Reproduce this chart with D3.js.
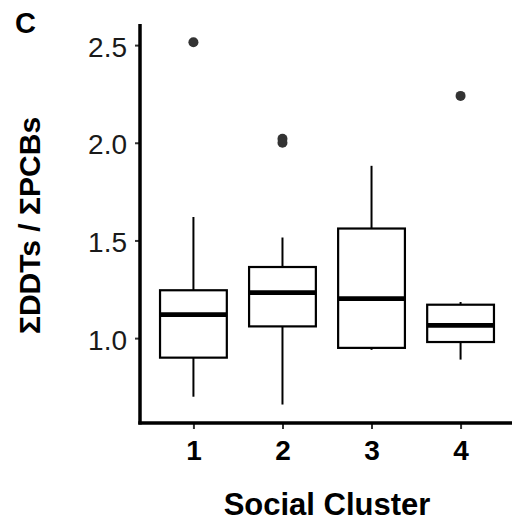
<!DOCTYPE html>
<html>
<head>
<meta charset="utf-8">
<script src="https://cdn.jsdelivr.net/npm/d3@7"></script>
<style>
  html, body { margin: 0; padding: 0; background: #fff; }
  svg { display: block; font-family: "Liberation Sans", Arial, sans-serif; }
</style>
</head>
<body>
<svg id="chart" width="512" height="522"></svg>
<script>
const categories = ["1", "2", "3", "4"];
const lowerWhisker = [0.70, 0.66, 0.94, 0.89];
const q1 = [0.90, 1.06, 0.95, 0.98];
const median = [1.12, 1.233, 1.202, 1.065];
const q3 = [1.245, 1.364, 1.561, 1.171];
const upperWhisker = [1.62, 1.515, 1.882, 1.185];
const outliers = [[2.515], [2.02, 2.0], [], [2.24]];
const yTicks = [1.0, 1.5, 2.0, 2.5];

const svg = d3.select("#chart");

const y = d3.scaleLinear().domain([0.567, 2.608]).range([422.7, 24]);
const x = d3.scaleLinear().domain([0.4, 4.6]).range([140, 514]);
const boxHalf = 0.375;

// boxes
const g = svg.append("g");
categories.forEach((c, i) => {
  const cx = x(i + 1);
  g.append("line").attr("x1", cx).attr("x2", cx)
    .attr("y1", y(upperWhisker[i])).attr("y2", y(q3[i]))
    .attr("stroke", "#000").attr("stroke-width", 2);
  g.append("line").attr("x1", cx).attr("x2", cx)
    .attr("y1", y(q1[i])).attr("y2", y(lowerWhisker[i]))
    .attr("stroke", "#000").attr("stroke-width", 2);
  g.append("rect")
    .attr("x", x(i + 1 - boxHalf)).attr("width", x(i + 1 + boxHalf) - x(i + 1 - boxHalf))
    .attr("y", y(q3[i])).attr("height", y(q1[i]) - y(q3[i]))
    .attr("fill", "#fff").attr("stroke", "#000").attr("stroke-width", 2.2);
  g.append("line")
    .attr("x1", x(i + 1 - boxHalf)).attr("x2", x(i + 1 + boxHalf))
    .attr("y1", y(median[i])).attr("y2", y(median[i]))
    .attr("stroke", "#000").attr("stroke-width", 4.8);
  outliers[i].forEach(v => {
    g.append("circle").attr("cx", cx).attr("cy", y(v)).attr("r", 5)
      .attr("fill", "#333");
  });
});

// Y axis
const yAxis = svg.append("g").attr("transform", "translate(140,0)")
  .call(d3.axisLeft(y).tickValues(yTicks).tickFormat(d3.format(".1f")).tickSizeInner(5).tickSizeOuter(0).tickPadding(8));
yAxis.select(".domain").remove();
yAxis.selectAll(".tick line").attr("stroke", "#333").attr("stroke-width", 2);
yAxis.selectAll(".tick text").attr("font-size", 28).attr("fill", "#1a1a1a")
  .attr("dy", "0.4em").style("font-family", "'Liberation Sans', Arial, sans-serif");

// X axis
const xAxis = svg.append("g").attr("transform", "translate(0,423)")
  .call(d3.axisBottom(x).tickValues([1, 2, 3, 4]).tickFormat((d) => categories[d - 1]).tickSizeInner(6).tickSizeOuter(0));
xAxis.select(".domain").remove();
xAxis.selectAll(".tick line").attr("stroke", "#333").attr("stroke-width", 2);
xAxis.selectAll(".tick text").attr("font-size", 28).attr("font-weight", "bold").attr("fill", "#000")
  .attr("y", 37).attr("dy", 0).style("font-family", "'Liberation Sans', Arial, sans-serif");

// axis lines
svg.append("line").attr("x1", 140).attr("x2", 140).attr("y1", 24).attr("y2", 424.5)
  .attr("stroke", "#000").attr("stroke-width", 3.5);
svg.append("line").attr("x1", 138.3).attr("x2", 512).attr("y1", 423).attr("y2", 423)
  .attr("stroke", "#000").attr("stroke-width", 3.5);

// titles
svg.append("text").attr("x", 327).attr("y", 515).attr("text-anchor", "middle")
  .attr("font-size", 31).attr("font-weight", "bold").attr("fill", "#000").text("Social Cluster");
svg.append("text").attr("transform", "translate(40,225.5) rotate(-90)").attr("text-anchor", "middle")
  .attr("font-size", 30).attr("font-weight", "bold").attr("fill", "#000").text("ΣDDTs / ΣPCBs");
svg.append("text").attr("x", 15).attr("y", 33)
  .attr("font-size", 29).attr("font-weight", "bold").attr("fill", "#000").text("C");
</script>
</body>
</html>
